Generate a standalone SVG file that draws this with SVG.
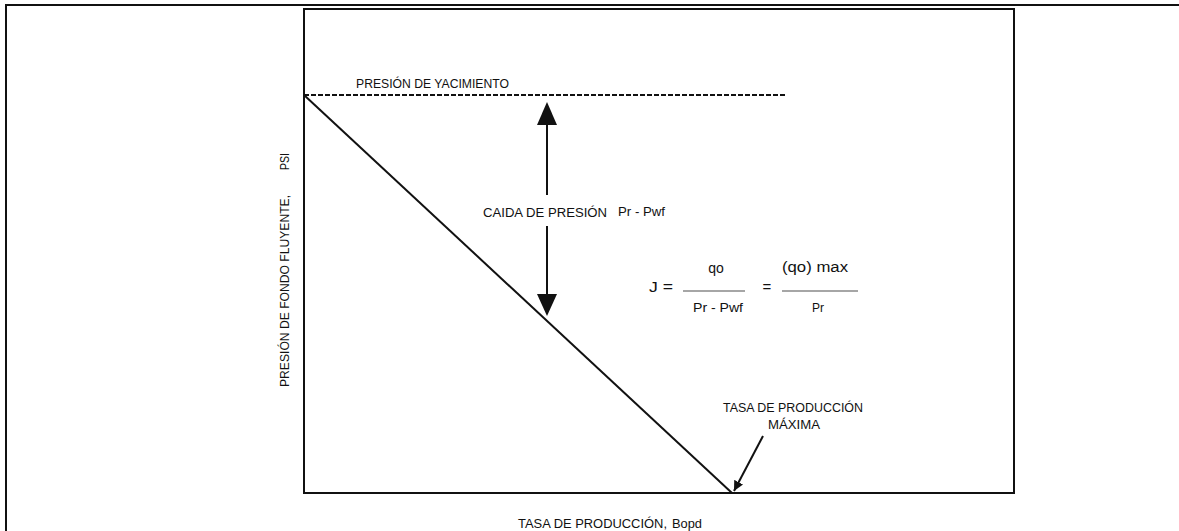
<svg xmlns="http://www.w3.org/2000/svg" width="1179" height="531" viewBox="0 0 1179 531">
<defs>
<style>
.t{font-family:"Liberation Sans",Arial,sans-serif;fill:#111;}
.cap{font-size:12px;}
.ln{stroke:#111;fill:none;stroke-width:2;}
.fr{stroke:#888;stroke-width:1.5;}
</style>
<marker id="head" viewBox="0 0 10 10" refX="10" refY="5" markerWidth="10" markerHeight="10" markerUnits="userSpaceOnUse" orient="auto">
<path d="M0,0 L10,5 L0,10 Z" fill="#111"/>
</marker>
</defs>
<rect width="1179" height="531" fill="#fff"/>
<g id="frame">
<path class="ln" d="M6,531 V5 H1179"/>
<rect x="304" y="9" width="710" height="484" class="ln"/>
</g>
<g id="connectors">
<line x1="304" y1="95" x2="786" y2="95" stroke="#111" stroke-width="2" stroke-dasharray="5 2"/>
<line class="ln" x1="304" y1="95" x2="732" y2="493"/>
<line class="ln" x1="547" y1="120" x2="547" y2="195"/>
<polygon points="547,102 537,125 557,125" fill="#111"/>
<line class="ln" x1="547" y1="226" x2="547" y2="296"/>
<polygon points="547,316 537,294 557,294" fill="#111"/>
<line class="ln" x1="763" y1="436" x2="734" y2="491" marker-end="url(#head)"/>
</g>
<g id="reservoir-pressure">
<text class="t cap" x="356" y="88" textLength="153" lengthAdjust="spacingAndGlyphs">PRESIÓN DE YACIMIENTO</text>
</g>
<g id="pressure-drop">
<text class="t cap" x="483" y="217" textLength="124" lengthAdjust="spacingAndGlyphs">CAIDA DE PRESIÓN</text>
<text class="t" font-size="12" x="618" y="216" textLength="47" lengthAdjust="spacingAndGlyphs">Pr - Pwf</text>
</g>
<g id="formula">
<text class="t" font-size="15" x="649" y="292" textLength="24" lengthAdjust="spacingAndGlyphs">J =</text>
<text class="t" font-size="14" x="716" y="273" text-anchor="middle">qo</text>
<line class="fr" x1="683" y1="291" x2="745" y2="291"/>
<text class="t" font-size="12" x="693" y="312" textLength="50" lengthAdjust="spacingAndGlyphs">Pr - Pwf</text>
<text class="t" font-size="15" x="767" y="292" text-anchor="middle">=</text>
<text class="t" font-size="14" x="782" y="272" textLength="66" lengthAdjust="spacingAndGlyphs">(qo) max</text>
<line class="fr" x1="782" y1="291" x2="858" y2="291"/>
<text class="t" font-size="12" x="818" y="312" text-anchor="middle">Pr</text>
</g>
<g id="max-rate">
<text class="t cap" x="793" y="412" text-anchor="middle" textLength="140" lengthAdjust="spacingAndGlyphs">TASA DE PRODUCCIÓN</text>
<text class="t cap" x="794" y="429" text-anchor="middle" textLength="52" lengthAdjust="spacingAndGlyphs">MÁXIMA</text>
</g>
<g id="x-axis-label">
<text class="t cap" x="518" y="528" textLength="149" lengthAdjust="spacingAndGlyphs">TASA DE PRODUCCIÓN,</text>
<text class="t cap" x="672" y="528" textLength="30" lengthAdjust="spacingAndGlyphs">Bopd</text>
</g>
<g id="y-axis-label">
<text class="t cap" transform="translate(289,387) rotate(-90)" x="0" y="0" textLength="192" lengthAdjust="spacingAndGlyphs">PRESIÓN DE FONDO FLUYENTE,</text>
<text class="t cap" transform="translate(289,170) rotate(-90)" x="0" y="0" textLength="17" lengthAdjust="spacingAndGlyphs">PSI</text>
</g>
</svg>
